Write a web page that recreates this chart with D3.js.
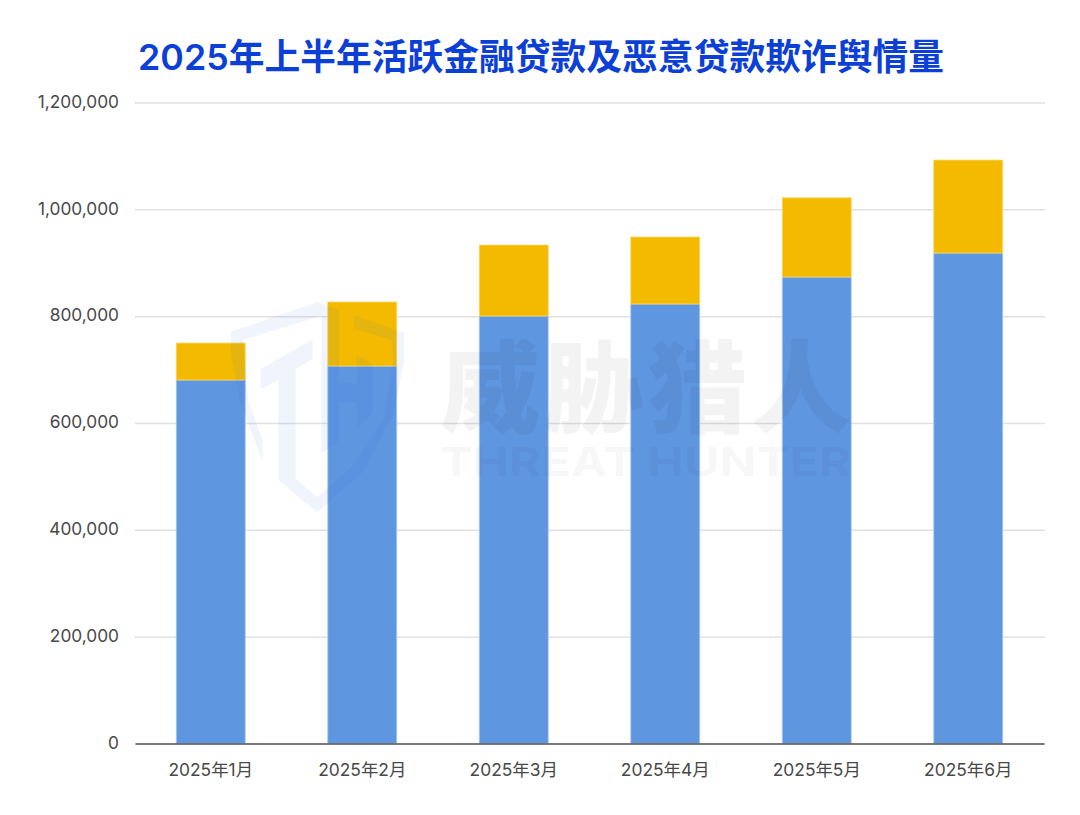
<!DOCTYPE html>
<html lang="zh">
<head>
<meta charset="utf-8">
<title>2025年上半年活跃金融贷款及恶意贷款欺诈舆情量</title>
<script src="https://cdn.jsdelivr.net/npm/d3@7"></script>
<style>
  html, body { margin: 0; padding: 0; background: #fff; }
  svg { display: block; font-family: Inter, "Noto Sans CJK SC", sans-serif; }
</style>
</head>
<body>
<div id="chart"></div>
<script>
const titleText = "2025年上半年活跃金融贷款及恶意贷款欺诈舆情量";
const months = ["2025年1月", "2025年2月", "2025年3月", "2025年4月", "2025年5月", "2025年6月"];
const activeLoan = [680500, 706700, 800300, 822800, 873300, 918200];
const maliciousLoan = [69200, 119800, 132900, 125400, 148300, 174100];
const yTicks = [0, 200000, 400000, 600000, 800000, 1000000, 1200000];

const width = 1080, height = 815;
const marginLeft = 135, marginRight = 35, marginTop = 102.5, marginBottom = 71.5;

const svg = d3.select("#chart").append("svg")
    .attr("width", width)
    .attr("height", height);

const x = d3.scaleBand()
    .domain(months)
    .range([marginLeft, width - marginRight - 1])
    .paddingInner(0.545)
    .paddingOuter(0.2725);

const y = d3.scaleLinear()
    .domain([0, 1200000])
    .range([height - marginBottom, marginTop]);

// gridlines + y labels
svg.append("g")
    .attr("transform", `translate(${marginLeft},0)`)
    .call(d3.axisLeft(y).tickValues(yTicks).tickSize(0).tickPadding(16).tickFormat(d3.format(",")))
    .call(g => g.select(".domain").remove())
    .call(g => g.selectAll(".tick text")
        .attr("font-size", 17.3)
        .attr("dy", "0.27em")
        .attr("font-family", "Inter, sans-serif")
        .attr("fill", "#484848"))
    .call(g => g.selectAll(".tick line").clone()
        .attr("x2", width - marginLeft - marginRight)
        .attr("stroke", "#e1e1e3")
        .attr("stroke-width", 1.5));

// stacked bars
const stack = d3.stack().keys(["active", "malicious"])(
    months.map((m, i) => ({month: m, active: activeLoan[i], malicious: maliciousLoan[i]})));
const colors = {active: "#5f96e0", malicious: "#f3ba00"};
const edges = {active: "#a8c6f0", malicious: "#f9d766"};

svg.append("g")
    .selectAll("g")
    .data(stack)
    .join("g")
    .attr("fill", d => colors[d.key])
    .attr("stroke", d => edges[d.key])
    .selectAll("rect")
    .data(d => d)
    .join("rect")
    .attr("x", d => x(d.data.month))
    .attr("y", d => y(d[1]))
    .attr("width", x.bandwidth())
    .attr("height", d => y(d[0]) - y(d[1]))
    .attr("stroke-width", 0.8);

// x axis
svg.append("g")
    .attr("transform", `translate(0,${height - marginBottom})`)
    .call(d3.axisBottom(x).tickSize(0).tickPadding(20))
    .call(g => g.select(".domain").attr("stroke", "#555").attr("stroke-width", 1.5))
    .call(g => g.selectAll(".tick text")
        .attr("font-size", 17.4)
        .attr("font-family", "Inter, 'Noto Sans CJK SC', sans-serif")
        .attr("fill", "#484848"));

// watermark, sits on top of the bars
const wm = svg.append("g").attr("pointer-events", "none");

const logo = wm.append("g")
    .attr("transform", "translate(220,295) scale(0.3333)")
    .attr("fill", "#3c6edc")
    .attr("fill-opacity", 0.075);
[
    "M291,22L33,110L33,180L60,320L128,500L128,435L85,320L68,135L305,62L305,475L357,440L357,322L410,322L410,400L458,355L458,210L410,178L410,265L357,265L357,45Z",
    "M402,60L552,115L552,200L520,360L430,530L291,652L175,555L175,255L122,282L122,222L278,133L278,192L227,222L227,550L291,607L400,510L490,370L520,200L515,135L402,100Z"
].forEach(d => logo.append("path").attr("d", d));

wm.append("text")
    .attr("x", 440)
    .attr("y", 425)
    .attr("textLength", 411)
    .attr("lengthAdjust", "spacing")
    .attr("font-family", "'Noto Sans CJK SC', sans-serif")
    .attr("font-weight", 900)
    .attr("font-size", 100)
    .attr("fill", "#111")
    .attr("fill-opacity", 0.05)
    .text("威胁猎人");

wm.append("text")
    .attr("x", 440)
    .attr("y", 476)
    .attr("textLength", 411)
    .attr("lengthAdjust", "spacingAndGlyphs")
    .attr("font-family", "Inter, sans-serif")
    .attr("font-weight", 700)
    .attr("font-size", 39)
    .attr("fill", "#111")
    .attr("fill-opacity", 0.05)
    .text("THREAT HUNTER");

svg.append("text")
    .attr("x", 138)
    .attr("y", 70)
    .attr("font-size", 36)
    .attr("font-weight", 600)
    .attr("textLength", 806)
    .attr("lengthAdjust", "spacingAndGlyphs")
    .attr("fill", "#0b3fd6")
    .text(titleText);
</script>
</body>
</html>
